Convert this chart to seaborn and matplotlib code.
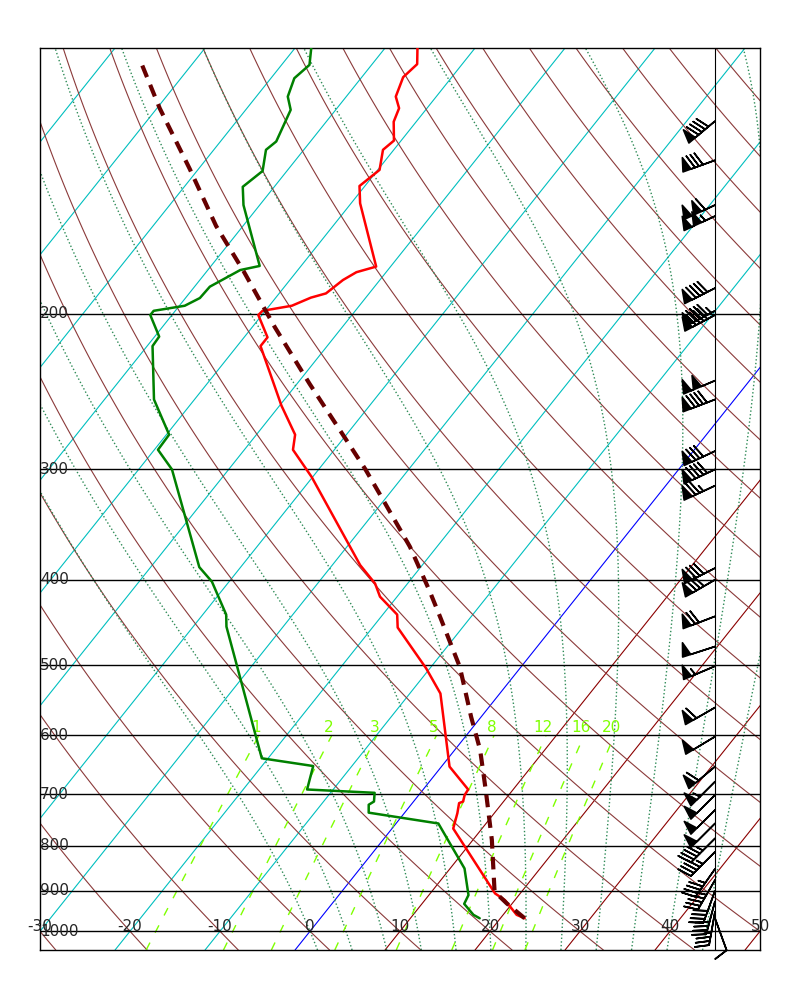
import numpy as np
import matplotlib
matplotlib.use('Agg')
import matplotlib.pyplot as plt
import seaborn as sns

# ---- sounding values (hPa, degC) ----
pres_temp = [966.7, 958, 922, 906, 765, 735, 716, 713, 701, 691, 651, 538, 504, 453, 438,
             418, 404, 385, 306, 285, 274, 254, 217.5, 212.6, 200.6, 198.4, 195.8, 191.7,
             189.6, 183.1, 179.4, 176.8, 149.9, 143.3, 137.4, 130.4, 127.3, 121.2, 117.0,
             113.5, 107.9, 104.3, 100]
temp = [22.7, 21.5, 18.9, 17.2, 6.8, 5.9, 5.2, 5.5, 5.1, 5.0, 0.9, -6.6, -10.4, -17.2, -18.4,
        -21.9, -23.6, -26.9, -40.1, -44.6, -45.7, -49.8, -57.4, -57.4, -60.4, -60.3, -57.5, -56.1,
        -54.8, -54.1, -53.3, -51.6, -59.0, -60.6, -59.8, -61.2, -60.8, -62.5, -63.1,
        -64.5, -65.4, -65.0, -66.4]

pres_dwpt = [966.7, 958, 931, 910, 849, 755, 734, 719, 713, 697, 691, 650, 637, 452, 438,
             402, 387, 300, 285, 274, 250, 217.5, 212.2, 200.6, 198.4, 195.8, 191.9, 186.3,
             178.4, 176.5, 150.6, 143.6, 137.8, 130.4, 127.6, 117.5, 113.5, 108.2, 104.5, 100]
dwpt = [17.7, 16.7, 14.7, 14.4, 11.6, 4.7, -4.0, -4.7, -4.4, -5.1, -12.9, -14.3, -20.7, -36.3, -37.4,
        -41.9, -44.6, -56.3, -59.6, -59.7, -64.5, -69.4, -69.5, -72.4, -72.4, -69.4, -68.4, -68.3,
        -66.4, -64.6, -71.8, -73.5, -72.7, -74.2, -73.8, -75.0, -76.5, -77.4, -76.9, -78.2]

pres_parcel = [966.7, 930, 902, 788, 692, 623, 572, 502, 440, 411, 367, 325, 300, 278,
               240, 207, 179, 159, 137, 117, 102.7]
parcel = [22.7, 19.4, 17.0, 12.1, 7.0, 2.8, -1.1, -6.8, -13.5, -17.0, -23.0, -30.1, -34.8, -39.5,
          -48.6, -57.5, -65.9, -73.0, -81.0, -89.7, -96.4]

barb_pres = [121, 134, 150.6, 155, 187, 198.4, 200.6, 238, 250, 286, 300, 313, 388, 400,
             440, 476, 501, 558, 602, 651, 677, 701, 729, 755, 785, 813, 850, 875, 900, 925,
             950, 966.7]
barb_speed = [90, 80, 110, 105, 90, 95, 90, 100, 90, 80, 90, 75, 80, 80,
              70, 50, 55, 60, 50, 60, 55, 50, 50, 50, 45, 45, 45, 45, 40, 40, 35, 10]
barb_dir = [230, 250, 245, 245, 243, 242, 242, 247, 249, 245, 245, 245, 243, 240,
            249, 252, 247, 240, 239, 230, 225, 225, 225, 225, 225, 225, 215, 210, 200, 195,
            190, 160]

# ---- chart furniture ----
isobars = [200, 300, 400, 500, 600, 700, 800, 900, 1000]
temp_ticks = [-30, -20, -10, 0, 10, 20, 30, 40, 50]
isotherms = list(range(-110, 60, 10))
dry_adiabat_t1000 = list(range(-40, 220, 10))
moist_adiabat_t1000 = [0, 4, 8, 12, 16, 20, 24, 28, 32, 36, 40, 44]
mixing_ratios = [1, 2, 3, 5, 8, 12, 16, 20]

P_BOT, P_TOP = 1050., 100.
T_MIN, T_MAX = -30., 50.
SKEW = (T_MAX - T_MIN) / np.log(P_BOT / P_TOP)   # 45 deg in axes space
FS = 11


def skew_x(t, p):
    return np.asarray(t, float) + SKEW * np.log(1000. / np.asarray(p, float))


def sat_vp(tc):
    return 6.112 * np.exp(17.67 * tc / (tc + 243.5))


def moist_lapse(t0, p_end, n=90):
    # pseudo-adiabat from t0 (C) at 1000 hPa to p_end, integrated in ln p
    Rd, cp, Lv, eps = 287.04, 1005.7, 2.501e6, 0.622

    def f(tk, lp):
        pp = np.exp(lp)
        es = sat_vp(tk - 273.15)
        rs = eps * es / (pp - es)
        return (Rd * tk + Lv * rs) / (cp + Lv * Lv * rs * eps / (Rd * tk * tk))

    lps = np.linspace(np.log(1000.), np.log(p_end), n)
    tk = t0 + 273.15
    ts = [tk]
    for a, b in zip(lps[:-1], lps[1:]):
        h = b - a
        k1 = f(tk, a)
        k2 = f(tk + h * k1 / 2, a + h / 2)
        k3 = f(tk + h * k2 / 2, a + h / 2)
        k4 = f(tk + h * k3, b)
        tk = tk + h * (k1 + 2 * k2 + 2 * k3 + k4) / 6
        ts.append(tk)
    return np.exp(lps), np.array(ts) - 273.15


def dewpoint_from_w(w, p):
    e = w * p / (622. + w)
    a = np.log(e / 6.112)
    return 243.5 * a / (17.67 - a)


sns.set_style('white')
plt.rcParams['font.family'] = ['DejaVu Sans']

fig = plt.figure(figsize=(8, 10), dpi=100)
ax = fig.add_axes([0.05, 0.05, 0.9, 0.902])
ax.set_yscale('log')

pp = np.geomspace(P_BOT, P_TOP, 120)

for t in isotherms:
    col = 'c' if t < 0 else ('b' if t == 0 else '#8B0000')
    ax.plot(skew_x(np.full_like(pp, t), pp), pp, color=col, lw=0.8, zorder=1)

for t in dry_adiabat_t1000:
    tk = (t + 273.15) * (pp / 1000.) ** 0.2857
    ax.plot(skew_x(tk - 273.15, pp), pp, color='#8B3A3A', lw=0.8, zorder=1)

for t in moist_adiabat_t1000:
    p_up, t_up = moist_lapse(t, P_TOP, 90)
    p_dn, t_dn = moist_lapse(t, P_BOT, 5)
    pm = np.concatenate([p_dn[::-1], p_up[1:]])
    tm = np.concatenate([t_dn[::-1], t_up[1:]])
    ax.plot(skew_x(tm, pm), pm, color='#2E8B57', lw=1.0, ls=':', zorder=1)

pw = np.geomspace(P_BOT, 600., 30)
for w in mixing_ratios:
    ax.plot(skew_x(dewpoint_from_w(w, pw), pw), pw, color='#7FFF00', lw=1.0,
            ls=(0, (6, 8)), zorder=1)
    ax.text(skew_x(dewpoint_from_w(w, 600.), 600.) - 0.3, 600., str(w), color='#7FFF00',
            ha='center', va='bottom', fontsize=FS, zorder=3)

for p in isobars:
    ax.axhline(p, color='k', lw=1.0, zorder=2)
    ax.text(0.0, p, str(p), transform=ax.get_yaxis_transform(), ha='left', va='center',
            fontsize=FS, zorder=4)

for t in temp_ticks:
    ax.text(t, 1000., str(t), ha='center', va='baseline', fontsize=FS, clip_on=False, zorder=4)

sns.lineplot(x=skew_x(temp, pres_temp), y=pres_temp, sort=False, estimator=None,
             color='r', lw=1.8, ax=ax, zorder=5)
sns.lineplot(x=skew_x(dwpt, pres_dwpt), y=pres_dwpt, sort=False, estimator=None,
             color='g', lw=1.8, ax=ax, zorder=5)
sns.lineplot(x=skew_x(parcel, pres_parcel), y=pres_parcel, sort=False, estimator=None,
             color='#660000', lw=3.0, ls=(0, (3, 2)), ax=ax, zorder=6)

# wind barbs on a fixed column
xb = 0.9375
ax.axvline(xb * (T_MAX - T_MIN) + T_MIN, color='k', lw=0.8, zorder=2)
wd = np.deg2rad(barb_dir)
u = -np.array(barb_speed) * np.sin(wd)
v = -np.array(barb_speed) * np.cos(wd)
ax.barbs(np.full(len(barb_pres), xb), barb_pres, u, v, transform=ax.get_yaxis_transform(),
         length=7, lw=1.2, color='k', clip_on=False, zorder=7)

ax.set_xlim(T_MIN, T_MAX)
ax.set_ylim(P_BOT, P_TOP)
ax.set_xticks([])
ax.set_yticks([])
ax.minorticks_off()
ax.set_xlabel('')
ax.set_ylabel('')
for s in ax.spines.values():
    s.set_color('k')
    s.set_linewidth(1.0)

fig.savefig('out.png', dpi=100)
